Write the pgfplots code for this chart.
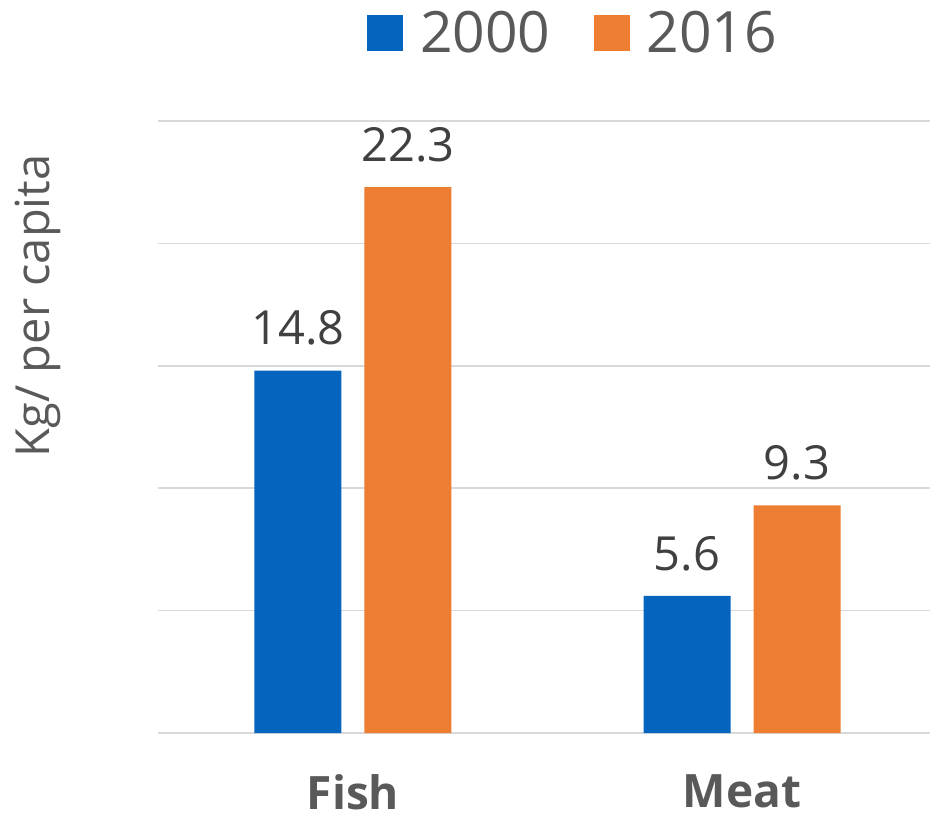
\documentclass[border=0pt]{standalone}
\usepackage{fontspec}
\setmainfont{Open Sans}
\usepackage{pgfplots}
\pgfplotsset{compat=1.18}
\definecolor{cblue}{HTML}{0564BE}
\definecolor{corange}{HTML}{ED7D31}
\definecolor{cgrid}{HTML}{D9D9D9}
\definecolor{ctext}{HTML}{595959}
\definecolor{cval}{HTML}{404040}
\begin{document}
\begin{tikzpicture}
\useasboundingbox (-158bp,-89bp) rectangle (772bp,733bp);
\begin{axis}[
  at={(0,0)}, anchor=south west,
  scale only axis,
  width=772bp, height=612bp,
  xmin=-0.501, xmax=1.483,
  ymin=0, ymax=25,
  ytick={0,5,10,15,20,25},
  yticklabels={},
  xtick={0,1},
  xticklabels={Fish,Meat},
  xticklabel style={font=\fontsize{46bp}{55bp}\selectfont\bfseries, text=ctext, anchor=north, inner sep=0pt, yshift=-41bp},
  major tick length=0pt,
  ymajorgrids,
  grid style={draw=cgrid, line width=1.5bp},
  axis line style={draw=none},
  ybar, bar width=87bp,
  ylabel={Kg/ per capita},
  ylabel style={at={(axis description cs:-0.155,0.698)}, anchor=center, font=\fontsize{47bp}{56bp}\selectfont, text=ctext},
  nodes near coords,
  /pgf/number format/assume math mode=true,
  /pgf/number format/.cd, fixed, fixed zerofill, precision=1, /pgfplots/.cd,
  nodes near coords style={anchor=south, inner sep=0pt, yshift=25bp, font=\fontsize{47bp}{56bp}\selectfont, text=cval},
  legend columns=2,
  legend style={at={(rel axis cs:0.2707,1.1438)}, anchor=west, draw=none, fill=none, inner sep=0pt,
    font=\fontsize{57bp}{68bp}\selectfont, text=ctext,
    /tikz/every odd column/.append style={column sep=15bp},
    /tikz/every even column/.append style={column sep=41bp}},
  legend image code/.code={\fill[#1] (0bp,-18bp) rectangle (36bp,18bp);},
]
\addplot[fill=cblue, draw=none, bar shift=-55bp] coordinates {(0,14.8) (1,5.6)};
\addplot[fill=corange, draw=none, bar shift=55bp] coordinates {(0,22.3) (1,9.3)};
\legend{2000,2016}
\end{axis}
\end{tikzpicture}
\end{document}
